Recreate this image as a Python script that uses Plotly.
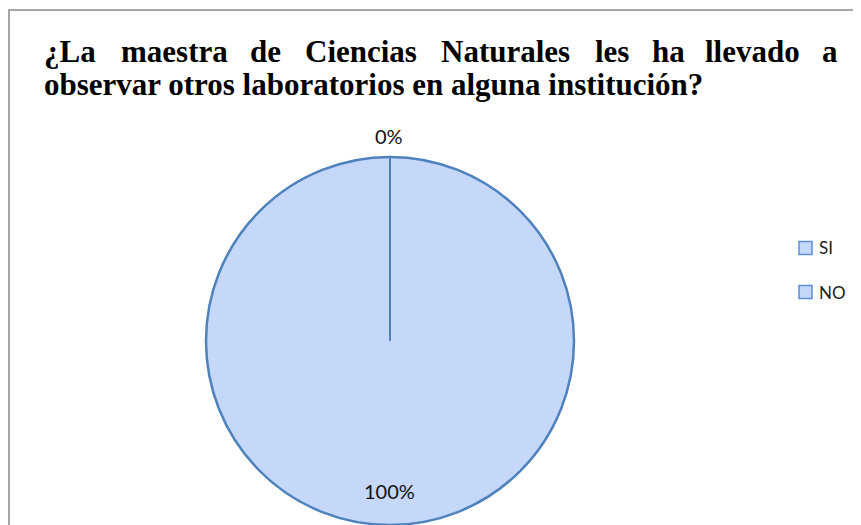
import plotly.graph_objects as go

# ---- data ----
labels = ["SI", "NO"]
values = [0, 100]
title_line1 = "¿La maestra de Ciencias Naturales les ha llevado a"
title_line2 = "observar otros laboratorios en alguna institución?"

W, H = 861, 525
OFF = 8  # page body margin in the browser


def xp(x):
    return (x - OFF) / W


def yp(y):
    return 1 - (y - OFF) / H


# pie geometry (screen pixels)
cx, cy, r = 390, 341, 184

fill = "#c5d8f9"
edge = "#4f81bd"

fig = go.Figure()
fig.add_trace(go.Pie(
    labels=labels, values=values, sort=False, direction="clockwise",
    rotation=0,
    marker=dict(colors=[fill, fill], line=dict(color=edge, width=2.5)),
    textinfo="none", hoverinfo="label+percent",
    domain=dict(x=[xp(cx - r), xp(cx + r)], y=[yp(cy + r), yp(cy - r)]),
    showlegend=False,
))

total = sum(values)
pcts = [f"{round(v / total * 100)}%" for v in values]

lab_font = dict(family="Lato", size=20, color="#111")
annotations = []
annotations.append(dict(x=xp(389), y=yp(136), xref="paper", yref="paper",
                        xanchor="center", yanchor="middle",
                        text=pcts[0], showarrow=False, font=lab_font))
annotations.append(dict(x=xp(389), y=yp(491), xref="paper", yref="paper",
                        xanchor="center", yanchor="middle",
                        text=pcts[1], showarrow=False, font=lab_font))

# justified title line 1
word_x = [42, 119, 248, 303, 439, 593, 650, 703, 820]
tfont = dict(family="Liberation Serif", size=31, color="#000")
for w, x in zip(title_line1.split(" "), word_x):
    annotations.append(dict(x=xp(x), y=yp(52), xref="paper", yref="paper",
                            xanchor="left", yanchor="middle",
                            text=f"<b>{w}</b>", showarrow=False, font=tfont))
annotations.append(dict(x=xp(42), y=yp(84), xref="paper", yref="paper",
                        xanchor="left", yanchor="middle",
                        text=f"<b>{title_line2}</b>", showarrow=False, font=tfont))

shapes = [
    # outer border
    dict(type="rect", xref="paper", yref="paper", x0=xp(9), x1=1.02, y0=-0.02, y1=yp(10),
         line=dict(color="#a6a6a6", width=2), fillcolor="rgba(0,0,0,0)", layer="below"),
    # zero-slice boundary (radius to top)
    dict(type="line", xref="paper", yref="paper", x0=xp(cx), x1=xp(cx),
         y0=yp(cy), y1=yp(cy - r), line=dict(color=edge, width=2)),
]

# legend (manual, to match the entry spacing)
leg_y = [248, 292]
for lab, y in zip(labels, leg_y):
    shapes.append(dict(type="rect", xref="paper", yref="paper",
                       x0=xp(799), x1=xp(812), y0=yp(y + 6.5), y1=yp(y - 6.5),
                       line=dict(color="#5b8ed6", width=1.5), fillcolor=fill))
    annotations.append(dict(x=xp(817), y=yp(y), xref="paper", yref="paper",
                            xanchor="left", yanchor="middle", text=lab, showarrow=False,
                            font=dict(family="Lato", size=17, color="#222")))

fig.update_layout(
    width=W, height=H, margin=dict(l=0, r=0, t=0, b=0),
    paper_bgcolor="white", plot_bgcolor="white",
    annotations=annotations, shapes=shapes, showlegend=False,
)

fig.write_html("out.html")
